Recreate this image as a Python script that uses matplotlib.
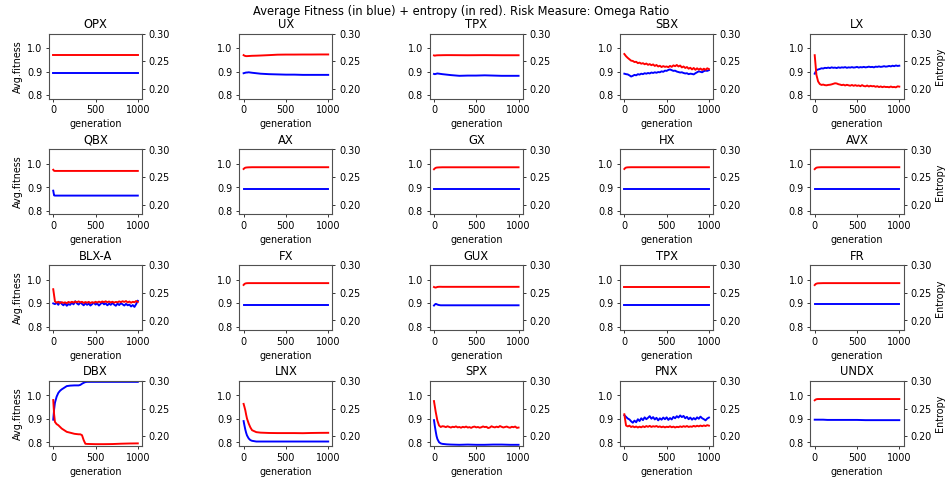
import numpy as np
import matplotlib
matplotlib.use('Agg')
from matplotlib import pyplot as plt

plt.rcParams['axes.edgecolor'] = '#505050'
plt.rcParams['axes.linewidth'] = 1.1

# x grids (generations)
gen = np.arange(0, 1001, 20)
gen_s = [0, 10, 20, 30, 40, 60, 80, 100, 150, 200, 300, 400, 500, 600, 700, 800, 900, 1000]
gen_dbx = [0, 10, 20, 40, 60, 80, 100, 130, 160, 200, 250, 300, 320, 340, 360, 380, 400,
           500, 600, 700, 800, 900, 1000]

names = ['OPX', 'UX', 'TPX', 'SBX', 'LX',
         'QBX', 'AX', 'GX', 'HX', 'AVX',
         'BLX-A', 'FX', 'GUX', 'TPX', 'FR',
         'DBX', 'LNX', 'SPX', 'PNX', 'UNDX']

# ---- smooth series on gen_s (fitness = left axis, entropy = right axis)
opx_fit = [0.893] * 18
opx_ent = [0.2610] * 18
ux_fit = [0.893, 0.894, 0.895, 0.896, 0.896, 0.897, 0.896, 0.895, 0.893, 0.891,
          0.889, 0.888, 0.887, 0.887, 0.886, 0.886, 0.886, 0.886]
ux_ent = [0.2610, 0.2600, 0.2595, 0.2592, 0.2592, 0.2594, 0.2596, 0.2598, 0.2600, 0.2603,
          0.2610, 0.2618, 0.2620, 0.2620, 0.2621, 0.2621, 0.2622, 0.2622]
tpx1_fit = [0.890, 0.889, 0.890, 0.891, 0.892, 0.891, 0.890, 0.889, 0.887, 0.885,
            0.882, 0.883, 0.883, 0.884, 0.883, 0.882, 0.882, 0.882]
tpx1_ent = [0.2605, 0.2600, 0.2604, 0.2606, 0.2607, 0.2608, 0.2608, 0.2609, 0.2610, 0.2610,
            0.2609, 0.2608, 0.2609, 0.2610, 0.2609, 0.2608, 0.2608, 0.2608]
qbx_fit = [0.886, 0.866, 0.865, 0.865, 0.865, 0.865, 0.865, 0.865, 0.865, 0.865,
           0.865, 0.865, 0.865, 0.865, 0.865, 0.865, 0.865, 0.865]
qbx_ent = [0.2631, 0.2612, 0.2610, 0.2610, 0.2610, 0.2610, 0.2610, 0.2610, 0.2610, 0.2610,
           0.2610, 0.2610, 0.2610, 0.2610, 0.2610, 0.2610, 0.2610, 0.2610]
ax_fit = [0.892] * 18
ax_ent = [0.2645, 0.2660, 0.2668, 0.2671, 0.2673, 0.2675, 0.2676, 0.2677, 0.2677, 0.2677,
          0.2677, 0.2677, 0.2677, 0.2677, 0.2677, 0.2677, 0.2677, 0.2677]
gx_fit = [0.892] * 18
gx_ent = [0.2640, 0.2655, 0.2665, 0.2670, 0.2672, 0.2674, 0.2675, 0.2676, 0.2676, 0.2676,
          0.2676, 0.2676, 0.2676, 0.2676, 0.2676, 0.2676, 0.2676, 0.2676]
hx_fit = [0.893] * 18
hx_ent = [0.2645, 0.2662, 0.2670, 0.2673, 0.2675, 0.2676, 0.2677, 0.2677, 0.2677, 0.2677,
          0.2677, 0.2677, 0.2677, 0.2677, 0.2677, 0.2677, 0.2677, 0.2677]
avx_fit = [0.892] * 18
avx_ent = [0.2642, 0.2658, 0.2668, 0.2672, 0.2674, 0.2676, 0.2677, 0.2677, 0.2677, 0.2677,
           0.2677, 0.2677, 0.2677, 0.2677, 0.2677, 0.2677, 0.2677, 0.2677]
fx_fit = [0.892] * 18
fx_ent = [0.2642, 0.2660, 0.2668, 0.2672, 0.2674, 0.2675, 0.2675, 0.2675, 0.2675, 0.2675,
          0.2675, 0.2675, 0.2675, 0.2675, 0.2675, 0.2675, 0.2675, 0.2675]
gux_fit = [0.890, 0.894, 0.897, 0.896, 0.894, 0.892, 0.891, 0.891, 0.891, 0.891,
           0.891, 0.891, 0.891, 0.891, 0.891, 0.891, 0.891, 0.891]
gux_ent = [0.2605, 0.2598, 0.2595, 0.2600, 0.2606, 0.2609, 0.2609, 0.2608, 0.2608, 0.2608,
           0.2608, 0.2608, 0.2608, 0.2608, 0.2608, 0.2608, 0.2608, 0.2608]
tpx2_fit = [0.891] * 18
tpx2_ent = [0.2608] * 18
fr_fit = [0.896] * 18
fr_ent = [0.2640, 0.2658, 0.2665, 0.2670, 0.2672, 0.2673, 0.2674, 0.2675, 0.2675, 0.2675,
          0.2675, 0.2675, 0.2675, 0.2675, 0.2675, 0.2675, 0.2675, 0.2675]
undx_fit = [0.897, 0.897, 0.897, 0.897, 0.897, 0.897, 0.897, 0.897, 0.896, 0.896,
            0.896, 0.896, 0.896, 0.895, 0.895, 0.895, 0.895, 0.895]
undx_ent = [0.2650, 0.2663, 0.2669, 0.2672, 0.2673, 0.2673, 0.2673, 0.2673, 0.2673, 0.2673,
            0.2673, 0.2673, 0.2673, 0.2673, 0.2673, 0.2673, 0.2673, 0.2673]
lnx_fit = [0.891, 0.872, 0.855, 0.841, 0.830, 0.817, 0.810, 0.807, 0.804, 0.804,
           0.804, 0.804, 0.804, 0.804, 0.804, 0.804, 0.804, 0.804]
lnx_ent = [0.2585, 0.2530, 0.2470, 0.2390, 0.2320, 0.2230, 0.2160, 0.2110, 0.2075, 0.2066,
           0.2060, 0.2058, 0.2058, 0.2058, 0.2056, 0.2060, 0.2062, 0.2063]
spx_fit = [0.895, 0.870, 0.848, 0.828, 0.815, 0.801, 0.796, 0.794, 0.792, 0.791,
           0.790, 0.791, 0.790, 0.790, 0.791, 0.791, 0.790, 0.790]

# ---- DBX on gen_dbx
dbx_fit = [0.897, 0.940, 0.969, 0.995, 1.011, 1.020, 1.026, 1.033, 1.040, 1.042, 1.043, 1.043,
           1.045, 1.050, 1.054, 1.057, 1.058, 1.058, 1.058, 1.058, 1.058, 1.058, 1.058]
dbx_ent = [0.2655, 0.2400, 0.2260, 0.2220, 0.2200, 0.2170, 0.2140, 0.2110, 0.2080, 0.2065,
           0.2045, 0.2036, 0.2036, 0.2020, 0.1930, 0.1865, 0.1862, 0.1858, 0.1858, 0.1860,
           0.1866, 0.1870, 0.1872]

# ---- noisy series on gen (step 20)
sbx_fit = [0.891, 0.889, 0.888, 0.884, 0.879, 0.882, 0.886, 0.884, 0.889, 0.887,
           0.891, 0.889, 0.893, 0.891, 0.894, 0.892, 0.896, 0.894, 0.897, 0.895,
           0.898, 0.897, 0.901, 0.899, 0.904, 0.903, 0.907, 0.909, 0.906, 0.903,
           0.904, 0.900, 0.898, 0.896, 0.897, 0.894, 0.892, 0.893, 0.889, 0.891,
           0.890, 0.888, 0.893, 0.897, 0.901, 0.899, 0.897, 0.902, 0.904, 0.903, 0.906]
sbx_ent = [0.2630, 0.2590, 0.2560, 0.2535, 0.2510, 0.2505, 0.2485, 0.2490, 0.2465, 0.2475,
           0.2455, 0.2465, 0.2445, 0.2458, 0.2435, 0.2448, 0.2428, 0.2442, 0.2415, 0.2432,
           0.2405, 0.2418, 0.2395, 0.2412, 0.2398, 0.2405, 0.2392, 0.2415, 0.2398, 0.2425,
           0.2410, 0.2432, 0.2405, 0.2422, 0.2388, 0.2405, 0.2378, 0.2395, 0.2365, 0.2382,
           0.2352, 0.2378, 0.2345, 0.2372, 0.2348, 0.2368, 0.2342, 0.2365, 0.2345, 0.2372, 0.2358]
lx_fit = [0.891, 0.906, 0.909, 0.911, 0.914, 0.913, 0.916, 0.915, 0.917, 0.915,
          0.918, 0.916, 0.917, 0.915, 0.918, 0.916, 0.918, 0.917, 0.919, 0.916,
          0.918, 0.917, 0.919, 0.917, 0.918, 0.920, 0.917, 0.919, 0.918, 0.920,
          0.918, 0.919, 0.921, 0.919, 0.920, 0.918, 0.921, 0.920, 0.922, 0.920,
          0.921, 0.923, 0.921, 0.922, 0.924, 0.922, 0.925, 0.923, 0.926, 0.924, 0.925]
lx_ent = [0.2609, 0.2255, 0.2135, 0.2088, 0.2072, 0.2078, 0.2068, 0.2065, 0.2072, 0.2075,
          0.2082, 0.2092, 0.2102, 0.2098, 0.2085, 0.2078, 0.2068, 0.2076, 0.2062, 0.2074,
          0.2065, 0.2058, 0.2071, 0.2056, 0.2068, 0.2055, 0.2063, 0.2049, 0.2068, 0.2052,
          0.2046, 0.2061, 0.2043, 0.2056, 0.2047, 0.2052, 0.2038, 0.2049, 0.2033, 0.2045,
          0.2031, 0.2042, 0.2034, 0.2036, 0.2029, 0.2043, 0.2031, 0.2035, 0.2028, 0.2046, 0.2041]
blx_fit = [0.899, 0.896, 0.902, 0.893, 0.905, 0.897, 0.891, 0.899, 0.889, 0.896,
           0.893, 0.902, 0.895, 0.908, 0.899, 0.894, 0.903, 0.897, 0.891, 0.900,
           0.893, 0.898, 0.890, 0.896, 0.902, 0.894, 0.899, 0.890, 0.897, 0.903,
           0.895, 0.899, 0.891, 0.898, 0.893, 0.901, 0.894, 0.889, 0.898, 0.892,
           0.900, 0.895, 0.890, 0.897, 0.891, 0.894, 0.886, 0.892, 0.884, 0.896, 0.910]
blx_ent = [0.2565, 0.2345, 0.2322, 0.2338, 0.2315, 0.2332, 0.2318, 0.2328, 0.2312, 0.2335,
           0.2322, 0.2338, 0.2325, 0.2342, 0.2328, 0.2345, 0.2326, 0.2338, 0.2318, 0.2334,
           0.2322, 0.2336, 0.2315, 0.2332, 0.2319, 0.2338, 0.2324, 0.2341, 0.2327, 0.2344,
           0.2331, 0.2347, 0.2329, 0.2343, 0.2325, 0.2339, 0.2322, 0.2336, 0.2328, 0.2345,
           0.2332, 0.2348, 0.2335, 0.2351, 0.2326, 0.2342, 0.2321, 0.2338, 0.2329, 0.2352, 0.2336]
spx_ent = [0.2636, 0.2445, 0.2285, 0.2195, 0.2168, 0.2182, 0.2178, 0.2165, 0.2181, 0.2169,
           0.2158, 0.2172, 0.2165, 0.2179, 0.2161, 0.2168, 0.2155, 0.2171, 0.2162, 0.2176,
           0.2158, 0.2166, 0.2152, 0.2169, 0.2175, 0.2161, 0.2168, 0.2155, 0.2163, 0.2178,
           0.2166, 0.2172, 0.2149, 0.2158, 0.2181, 0.2168, 0.2161, 0.2174, 0.2163, 0.2185,
           0.2171, 0.2159, 0.2168, 0.2176, 0.2162, 0.2155, 0.2172, 0.2164, 0.2176, 0.2152, 0.2158]
pnx_fit = [0.916, 0.909, 0.902, 0.898, 0.890, 0.884, 0.893, 0.886, 0.899, 0.891,
           0.903, 0.895, 0.907, 0.899, 0.905, 0.912, 0.901, 0.908, 0.898, 0.905,
           0.894, 0.903, 0.897, 0.906, 0.899, 0.907, 0.896, 0.904, 0.898, 0.909,
           0.903, 0.912, 0.906, 0.915, 0.908, 0.913, 0.903, 0.909, 0.899, 0.906,
           0.897, 0.904, 0.898, 0.907, 0.901, 0.910, 0.903, 0.899, 0.894, 0.902, 0.906]
pnx_ent = [0.2398, 0.2195, 0.2178, 0.2192, 0.2168, 0.2181, 0.2163, 0.2177, 0.2159, 0.2174,
           0.2162, 0.2181, 0.2166, 0.2185, 0.2171, 0.2188, 0.2169, 0.2182, 0.2174, 0.2186,
           0.2168, 0.2179, 0.2164, 0.2176, 0.2161, 0.2173, 0.2166, 0.2181, 0.2163, 0.2175,
           0.2159, 0.2172, 0.2165, 0.2179, 0.2168, 0.2183, 0.2171, 0.2186, 0.2169, 0.2178,
           0.2172, 0.2189, 0.2175, 0.2191, 0.2179, 0.2194, 0.2182, 0.2196, 0.2185, 0.2201, 0.2192]

panels = [
    (gen_s, opx_fit, gen_s, opx_ent), (gen_s, ux_fit, gen_s, ux_ent),
    (gen_s, tpx1_fit, gen_s, tpx1_ent), (gen, sbx_fit, gen, sbx_ent),
    (gen, lx_fit, gen, lx_ent),
    (gen_s, qbx_fit, gen_s, qbx_ent), (gen_s, ax_fit, gen_s, ax_ent),
    (gen_s, gx_fit, gen_s, gx_ent), (gen_s, hx_fit, gen_s, hx_ent),
    (gen_s, avx_fit, gen_s, avx_ent),
    (gen, blx_fit, gen, blx_ent), (gen_s, fx_fit, gen_s, fx_ent),
    (gen_s, gux_fit, gen_s, gux_ent), (gen_s, tpx2_fit, gen_s, tpx2_ent),
    (gen_s, fr_fit, gen_s, fr_ent),
    (gen_dbx, dbx_fit, gen_dbx, dbx_ent), (gen_s, lnx_fit, gen_s, lnx_ent),
    (gen_s, spx_fit, gen, spx_ent), (gen, pnx_fit, gen, pnx_ent),
    (gen_s, undx_fit, gen_s, undx_ent),
]

fig, axes = plt.subplots(4, 5, figsize=(946.2 / 69, 479.2 / 69), dpi=69)
fig.subplots_adjust(left=0.0518, right=0.9549, top=0.9296, bottom=0.0689,
                    wspace=1.046, hspace=0.78)

for i, ax in enumerate(axes.flat):
    xf, fit, xe, ent = panels[i]
    ax.plot(xf, fit, color='b', lw=2)
    ax2 = ax.twinx()
    ax2.plot(xe, ent, color='r', lw=2)
    ax.set_ylim(0.785, 1.062)
    ax2.set_ylim(0.1825, 0.30)
    ax.set_yticks([0.8, 0.9, 1.0])
    ax2.set_yticks([0.20, 0.25, 0.30])
    ax.set_xticks([0, 500, 1000])
    ax.set_title(names[i])
    ax.set_xlabel('generation')
    if i % 5 == 0:
        ax.set_ylabel('Avg.fitness')
    if i % 5 == 4:
        ax2.set_ylabel('Entropy')

fig.suptitle('Average Fitness (in blue) + entropy (in red). Risk Measure: Omega Ratio',
             x=0.487, y=0.99)
fig.savefig('out.png', dpi=69)
